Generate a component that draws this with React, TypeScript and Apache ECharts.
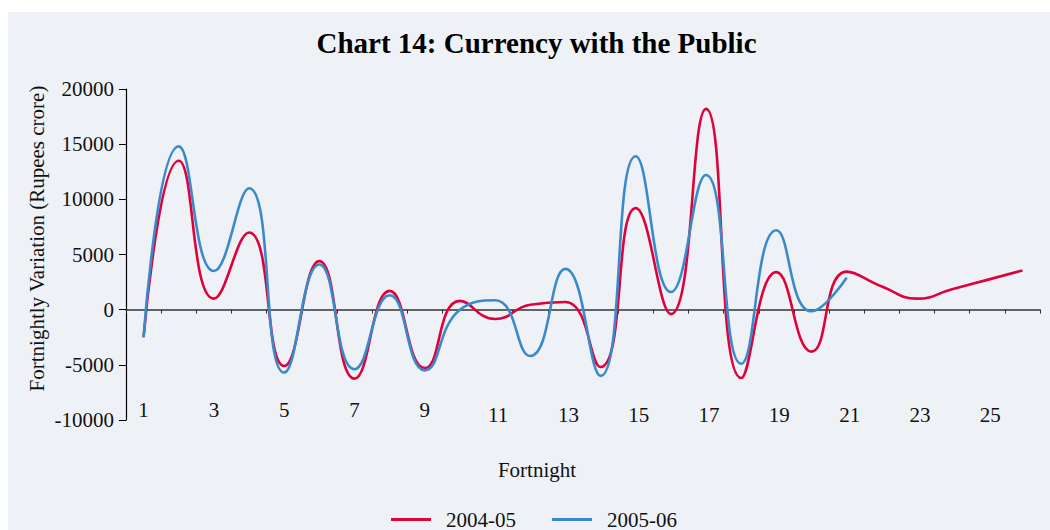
import React, { useEffect, useRef } from "react";
import * as echarts from "echarts";

const fortnights = ["1","2","3","4","5","6","7","8","9","10","11","12","13","14","15","16","17","18","19","20","21","22","23","24","25","26"];
const values2004_05 = [-2500, 13500, 1000, 7000, -5100, 4400, -6250, 1700, -5300, 800, -850, 450, 700, -5200, 9200, -400, 18200, -6200, 3400, -3800, 3450, 2100, 1000, 1850, 2700, 3550];
const values2005_06 = [-2500, 14800, 3500, 11000, -5700, 4100, -5400, 1300, -5500, 0, 850, -4200, 3700, -6000, 13900, 1600, 12200, -4900, 7200, -150, 2900];
const seriesNames = ["2004-05", "2005-06"];
const yMin = -10000;
const yMax = 20000;
const yStep = 5000;

const FONT = '"Liberation Serif", "Times New Roman", serif';

export default function App() {
  const ref = useRef<HTMLDivElement>(null);
  useEffect(() => {
    if (!ref.current) return;
    const chart = echarts.init(ref.current, undefined, { renderer: "svg" });
    chart.setOption({
      animation: false,
      backgroundColor: "#eef2f6",
      textStyle: { fontFamily: FONT },
      grid: { left: 118, right: 10, top: 77, bottom: 110, containLabel: false, outerBoundsMode: "none" },
      graphic: [
        {
          type: "text",
          x: 528.5,
          y: 31,
          style: {
            text: "Chart 14: Currency with the Public",
            font: `bold 29px ${FONT}`,
            fill: "#000",
            textAlign: "center",
            textVerticalAlign: "middle",
          },
        },
        {
          type: "text",
          x: 29,
          y: 226.5,
          rotation: Math.PI / 2,
          style: {
            text: "Fortnightly Variation (Rupees crore)",
            font: `21px ${FONT}`,
            fill: "#111",
            textAlign: "center",
            textVerticalAlign: "middle",
          },
        },
        {
          type: "text",
          x: 529,
          y: 458,
          style: {
            text: "Fortnight",
            font: `21px ${FONT}`,
            fill: "#111",
            textAlign: "center",
            textVerticalAlign: "middle",
          },
        },
      ],
      legend: {
        left: 378,
        top: 492,
        icon: "rect",
        itemWidth: 40,
        itemHeight: 3,
        itemGap: 36,
        data: seriesNames,
        textStyle: { fontFamily: FONT, fontSize: 21, color: "#111", padding: [0, 0, 0, 10] },
      },
      xAxis: [
        {
          type: "category",
          data: fortnights,
          boundaryGap: true,
          position: "bottom",
          axisLine: { show: false, onZero: false },
          axisTick: { show: false },
          axisLabel: {
            interval: 1,
            margin: -21,
            fontFamily: FONT,
            fontSize: 21,
            color: "#111",
            formatter: (v: string) => (Number(v) >= 10 ? `{b|${v}}` : `{a|${v}}`),
            rich: {
              a: { fontFamily: FONT, fontSize: 21, lineHeight: 21, color: "#111" },
              b: { fontFamily: FONT, fontSize: 21, lineHeight: 32, color: "#111", padding: [0, 0, 0, 6] },
            },
          },
          splitLine: { show: false },
        },
        {
          type: "category",
          data: fortnights,
          boundaryGap: true,
          position: "bottom",
          axisLine: { show: true, onZero: true, lineStyle: { color: "#333", width: 1.5 } },
          axisTick: { show: true, length: 4, interval: 0, lineStyle: { color: "#333" } },
          axisLabel: { show: false },
          splitLine: { show: false },
        },
      ],
      yAxis: {
        type: "value",
        min: yMin,
        max: yMax,
        interval: yStep,
        axisLine: { show: true, lineStyle: { color: "#000", width: 1.2 } },
        axisTick: { show: true, length: 7, lineStyle: { color: "#000" } },
        axisLabel: {
          margin: 12,
          fontFamily: FONT,
          fontSize: 21,
          color: "#111",
          formatter: (v: number) => String(v),
        },
        splitLine: { show: false },
      },
      series: [
        {
          name: seriesNames[0],
          type: "line",
          xAxisIndex: 0,
          data: values2004_05,
          smooth: 0.5,
          showSymbol: false,
          symbol: "none",
          lineStyle: { color: "#e0003a", width: 2.6 },
          itemStyle: { color: "#e0003a" },
          z: 3,
        },
        {
          name: seriesNames[1],
          type: "line",
          xAxisIndex: 0,
          data: values2005_06,
          smooth: 0.5,
          showSymbol: false,
          symbol: "none",
          lineStyle: { color: "#3a8acb", width: 2.6 },
          itemStyle: { color: "#3a8acb" },
          z: 4,
        },
      ],
    });
    return () => chart.dispose();
  }, []);
  return (
    <div
      ref={ref}
      style={{ position: "absolute", left: 8, top: 12, width: 1042, height: 518 }}
    />
  );
}
